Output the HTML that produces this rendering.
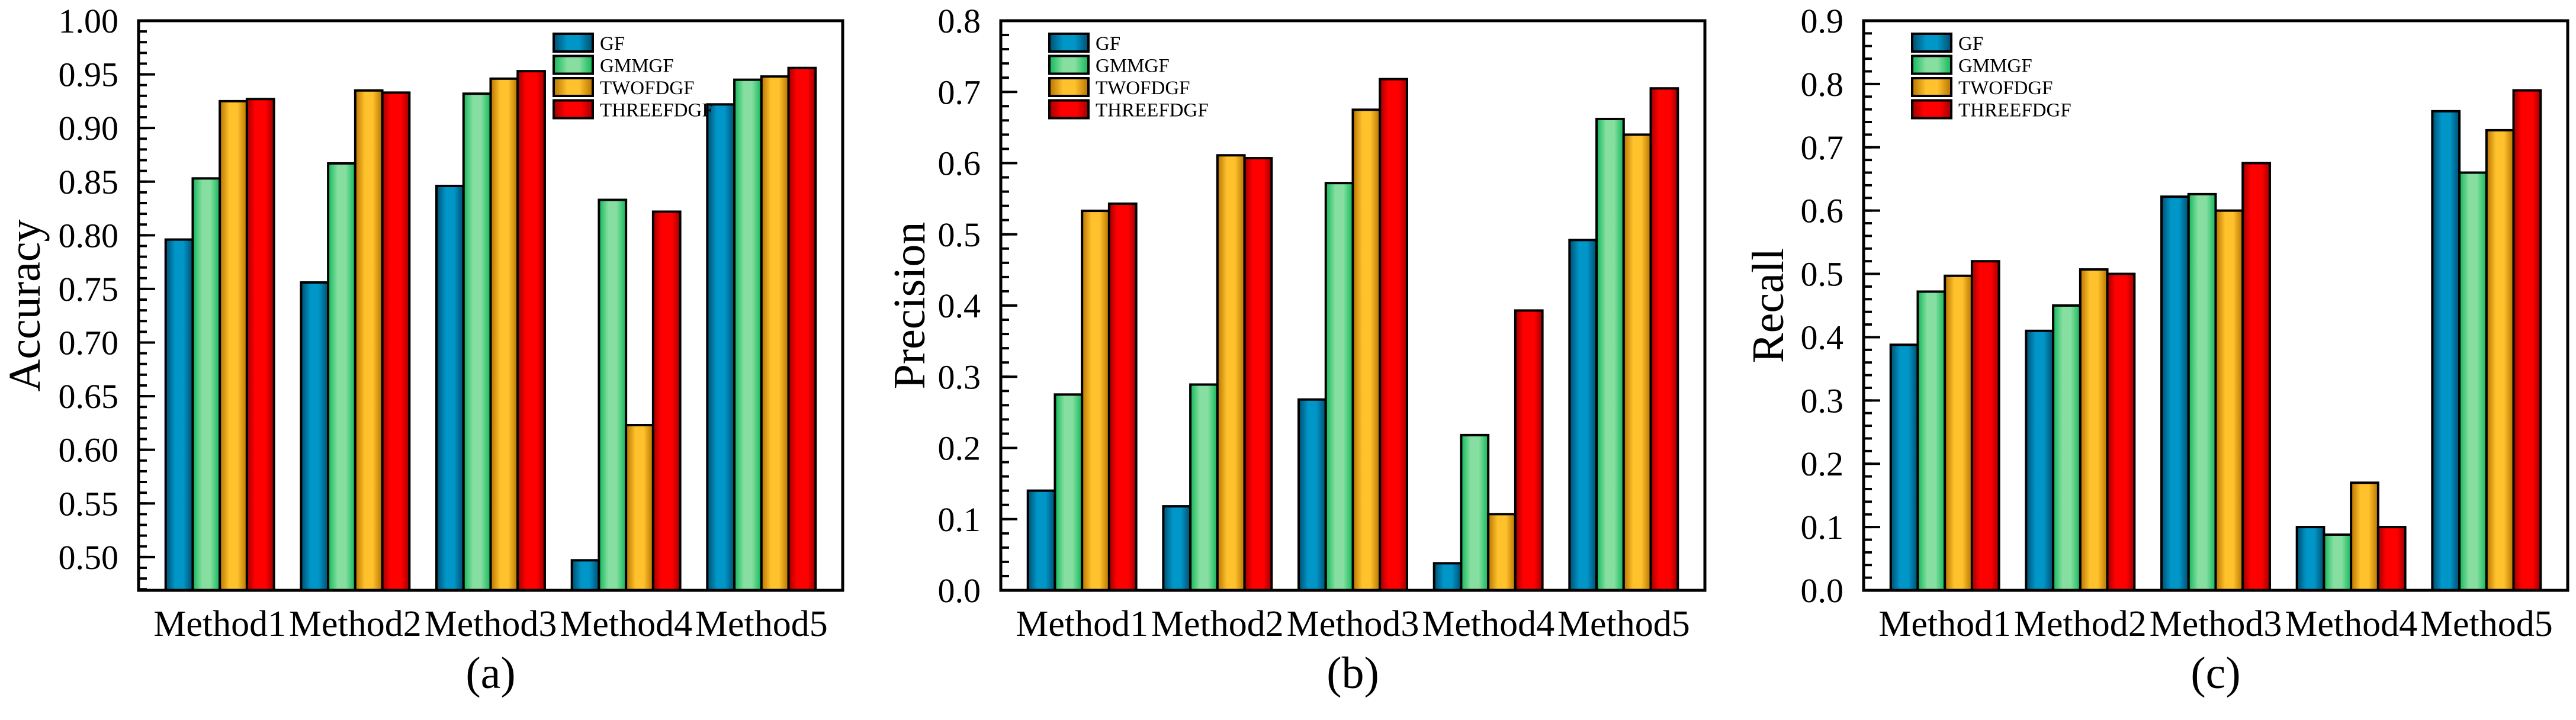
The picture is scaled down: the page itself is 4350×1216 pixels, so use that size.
<!DOCTYPE html>
<html><head><meta charset="utf-8"><style>
html,body{margin:0;padding:0;background:#fff}
svg, svg text{font-family:"Liberation Serif","Times New Roman","DejaVu Serif",serif}
</style></head><body>
<svg id="fig" width="4350" height="1211" viewBox="0 0 4350 1211" xmlns="http://www.w3.org/2000/svg" font-family="Liberation Serif, serif">
<defs>
<linearGradient id="g0" x1="0" x2="1" y1="0" y2="0"><stop offset="0" stop-color="#004e70"/><stop offset="0.35" stop-color="#0096c8"/><stop offset="0.65" stop-color="#0096c8"/><stop offset="1" stop-color="#004e70"/></linearGradient>
<linearGradient id="g1" x1="0" x2="1" y1="0" y2="0"><stop offset="0" stop-color="#10b85a"/><stop offset="0.35" stop-color="#86dfa0"/><stop offset="0.65" stop-color="#86dfa0"/><stop offset="1" stop-color="#10b85a"/></linearGradient>
<linearGradient id="g2" x1="0" x2="1" y1="0" y2="0"><stop offset="0" stop-color="#b87400"/><stop offset="0.35" stop-color="#ffc12c"/><stop offset="0.65" stop-color="#ffc12c"/><stop offset="1" stop-color="#b87400"/></linearGradient>
<linearGradient id="g3" x1="0" x2="1" y1="0" y2="0"><stop offset="0" stop-color="#a00000"/><stop offset="0.3" stop-color="#ff0000"/><stop offset="0.7" stop-color="#ff0000"/><stop offset="1" stop-color="#a00000"/></linearGradient>
</defs>
</svg>
<script>
const categories = ["Method1","Method2","Method3","Method4","Method5"];
const seriesNames = ["GF","GMMGF","TWOFDGF","THREEFDGF"];
const accGF = [0.796,0.756,0.846,0.497,0.922];
const accGMMGF = [0.853,0.867,0.932,0.833,0.945];
const accTWOFDGF = [0.925,0.935,0.946,0.623,0.948];
const accTHREEFDGF = [0.927,0.933,0.953,0.822,0.956];
const precGF = [0.140,0.118,0.268,0.038,0.492];
const precGMMGF = [0.275,0.289,0.572,0.218,0.662];
const precTWOFDGF = [0.533,0.611,0.675,0.107,0.640];
const precTHREEFDGF = [0.543,0.607,0.718,0.393,0.705];
const recGF = [0.388,0.410,0.622,0.100,0.757];
const recGMMGF = [0.472,0.450,0.626,0.088,0.660];
const recTWOFDGF = [0.497,0.507,0.600,0.170,0.727];
const recTHREEFDGF = [0.520,0.500,0.675,0.100,0.790];
const accTicks = ["0.50","0.55","0.60","0.65","0.70","0.75","0.80","0.85","0.90","0.95","1.00"];
const precTicks = ["0.0","0.1","0.2","0.3","0.4","0.5","0.6","0.7","0.8"];
const recTicks = ["0.0","0.1","0.2","0.3","0.4","0.5","0.6","0.7","0.8","0.9"];

const NS="http://www.w3.org/2000/svg";
const svg=document.getElementById('fig');
const FF='"Liberation Serif", "DejaVu Serif", serif';
function mk(tag,attrs,parent){const e=document.createElementNS(NS,tag);for(const k in attrs)e.setAttribute(k,attrs[k]);if(tag==='text'){e.setAttribute('font-family',FF);e.style.fontFamily=FF;}(parent||svg).appendChild(e);return e;}

const TOP=35,BOT=997,W=1189;
const charts=[
 {left:234,title:"Accuracy",tx:41,lab:"(a)",ymin:0.469,ymax:1.0,ticks:accTicks,minorStep:0.01,series:[accGF,accGMMGF,accTWOFDGF,accTHREEFDGF],leg:701,key:"accuracy"},
 {left:1690,title:"Precision",tx:1535,lab:"(b)",ymin:0,ymax:0.8,ticks:precTicks,minorStep:0.02,series:[precGF,precGMMGF,precTWOFDGF,precTHREEFDGF],leg:82,key:"precision"},
 {left:3147,title:"Recall",tx:2985,lab:"(c)",ymin:0,ymax:0.9,ticks:recTicks,minorStep:0.02,series:[recGF,recGMMGF,recTWOFDGF,recTHREEFDGF],leg:82,key:"recall"}
];
charts.forEach(c=>{
  const g=mk('g',{});
  
  
  const y=v=>BOT-(v-c.ymin)/(c.ymax-c.ymin)*(BOT-TOP);
  const bw=W/26;
  const xBar=(ci,si)=>c.left+bw+ci*5*bw+si*bw;
  c.series.forEach((arr,si)=>{
    arr.forEach((v,ci)=>{
      const yv=Math.max(TOP,y(v));
      const r=mk('rect',{x:xBar(ci,si),y:yv,width:bw,height:BOT-yv,fill:'url(#g'+si+')',stroke:'#000','stroke-width':4},g);
      
      
    });
  });
  const start=Math.ceil(c.ymin/c.minorStep-1e-6);
  for(let k=start;k*c.minorStep<=c.ymax+1e-9;k++){
    const v=k*c.minorStep;const yy=y(v);
    if(yy<TOP+6) continue;
    mk('line',{x1:c.left,x2:c.left+14,y1:yy,y2:yy,stroke:'#000','stroke-width':4},g);
  }
  c.ticks.forEach(t=>{
    const v=parseFloat(t);const yy=y(v);
    if(yy>TOP+6 && yy<BOT-6) mk('line',{x1:c.left,x2:c.left+28,y1:yy,y2:yy,stroke:'#000','stroke-width':4},g);
    const tl=mk('text',{x:c.left-34,y:yy+20,'font-size':58,'text-anchor':'end',fill:'#000'},g);
    tl.textContent=t;
    
    
  });
  const fr=mk('rect',{x:c.left,y:TOP,width:W,height:BOT-TOP,fill:'none',stroke:'#000','stroke-width':5},g);
  
  
  categories.forEach((cat,ci)=>{
    const t=mk('text',{x:xBar(ci,2),y:1074,'font-size':62,'text-anchor':'middle',fill:'#000'},g);
    t.textContent=cat;
    
    
  });
  const yt=mk('text',{x:0,y:0,'font-size':76,'text-anchor':'middle',fill:'#000',transform:'translate('+(c.tx+26)+',516) rotate(-90)'},g);
  yt.textContent=c.title;
  
  
  const pl=mk('text',{x:c.left+W/2,y:1162,'font-size':76,'text-anchor':'middle',fill:'#000'},g);
  pl.textContent=c.lab;
  
  
  const lg=mk('g',{},g);
  
  
  seriesNames.forEach((s,si)=>{
    const ly=57+si*37.5;
    const e=mk('g',{},lg);
    
    
    mk('rect',{x:c.left+c.leg,y:ly,width:66,height:30,fill:'url(#g'+si+')',stroke:'#000','stroke-width':4},e);
    const t=mk('text',{x:c.left+c.leg+78,y:ly+27,'font-size':33,fill:'#000'},e);
    t.textContent=s;
  });
});
</script>
</body></html>
